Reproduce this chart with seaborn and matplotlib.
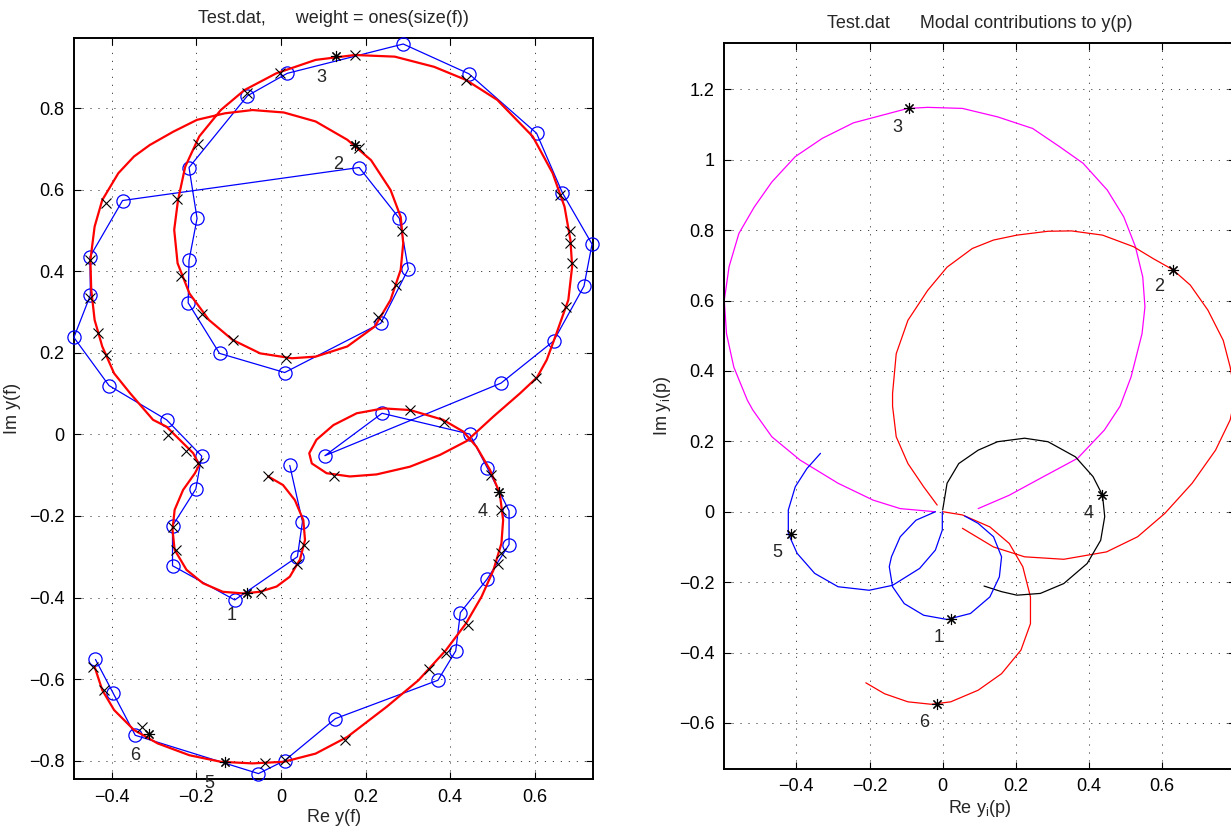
import matplotlib
matplotlib.use("Agg")
import matplotlib.pyplot as plt
import seaborn as sns
import numpy as np

sns.set_theme(style="ticks")
plt.rcParams["font.family"] = ["Liberation Sans", "DejaVu Sans"]
plt.rcParams["mathtext.fontset"] = "custom"
plt.rcParams["mathtext.rm"] = "Liberation Sans"
plt.rcParams["mathtext.it"] = "Liberation Sans:italic"

# ---------------- left panel data ----------------
fit_re = [-0.030, 0.005, 0.033, 0.053, 0.057, 0.045, 0.021, -0.010, -0.050, -0.089, -0.137, -0.184,
          -0.223, -0.251, -0.256, -0.251, -0.231, -0.203, -0.193, -0.207, -0.239, -0.270, -0.302,
          -0.356, -0.394, -0.422, -0.440, -0.448, -0.450, -0.440, -0.422, -0.384, -0.347, -0.310,
          -0.254, -0.198, -0.132, -0.067, 0.007, 0.082, 0.157, 0.213, 0.259, 0.283, 0.289, 0.283,
          0.259, 0.222, 0.157, 0.082, 0.026, -0.049, -0.114, -0.170, -0.216, -0.244, -0.252, -0.243,
          -0.226, -0.193, -0.142, -0.086, -0.011, 0.082, 0.175, 0.269, 0.362, 0.437, 0.511, 0.595,
          0.642, 0.670, 0.684, 0.688, 0.679, 0.651, 0.628, 0.605, 0.565, 0.502, 0.439, 0.376, 0.305,
          0.226, 0.163, 0.108, 0.073, 0.067, 0.084, 0.124, 0.179, 0.242, 0.305, 0.383, 0.431, 0.462,
          0.494, 0.517, 0.525, 0.521, 0.502, 0.474, 0.437, 0.390, 0.325, 0.250, 0.157, 0.082, 0.007,
          -0.067, -0.142, -0.216, -0.291, -0.347, -0.394, -0.422, -0.440]
fit_im = [-0.103, -0.124, -0.161, -0.210, -0.259, -0.307, -0.349, -0.373, -0.386, -0.390, -0.386, -0.365,
          -0.332, -0.283, -0.234, -0.185, -0.136, -0.095, -0.075, -0.046, -0.013, 0.019, 0.036,
          0.101, 0.150, 0.216, 0.281, 0.355, 0.428, 0.510, 0.575, 0.641, 0.682, 0.710,
          0.743, 0.772, 0.788, 0.796, 0.790, 0.768, 0.723, 0.673, 0.600, 0.534, 0.469, 0.404,
          0.330, 0.265, 0.216, 0.191, 0.187, 0.199, 0.232, 0.281, 0.346, 0.420, 0.502, 0.575,
          0.657, 0.731, 0.796, 0.845, 0.886, 0.919, 0.931, 0.927, 0.902, 0.870, 0.821, 0.731,
          0.641, 0.559, 0.477, 0.412, 0.330, 0.248, 0.183, 0.140, 0.101, 0.044, -0.016, -0.050, -0.079,
          -0.098, -0.103, -0.095, -0.071, -0.046, -0.013, 0.023, 0.052, 0.064, 0.060, 0.036, 0.007, -0.030,
          -0.087, -0.144, -0.210, -0.267, -0.333, -0.398, -0.464, -0.529, -0.603, -0.668, -0.742, -0.783, -0.803,
          -0.807, -0.803, -0.787, -0.758, -0.725, -0.676, -0.627, -0.570]

meas_re = [0.021, 0.051, 0.039, -0.109, -0.256, -0.256, -0.201, -0.187, -0.270, -0.406, -0.489, -0.450,
           -0.451, -0.374, 0.185, 0.280, 0.301, 0.236, 0.009, -0.145, -0.219, -0.217, -0.198, -0.217,
           -0.079, 0.015, 0.289, 0.444, 0.604, 0.665, 0.735, 0.716, 0.644, 0.520, 0.104, 0.239, 0.446,
           0.488, 0.539, 0.539, 0.487, 0.424, 0.413, 0.371, 0.129, 0.009, -0.053, -0.344, -0.396, -0.438]
meas_im = [-0.076, -0.214, -0.300, -0.406, -0.322, -0.224, -0.134, -0.053, 0.036, 0.120, 0.238, 0.342,
           0.436, 0.574, 0.655, 0.530, 0.406, 0.273, 0.152, 0.199, 0.323, 0.427, 0.530, 0.655,
           0.831, 0.886, 0.958, 0.885, 0.739, 0.593, 0.467, 0.364, 0.229, 0.126, -0.052, 0.052, 0.001,
           -0.083, -0.187, -0.270, -0.355, -0.437, -0.531, -0.603, -0.697, -0.800, -0.832, -0.738, -0.635, -0.552]

fitpt_re = [-0.030, 0.054, 0.037, -0.048, -0.256, -0.247, -0.195, -0.223, -0.267, -0.412, -0.431, -0.450,
            -0.450, -0.412, -0.246, -0.196, -0.081, -0.002, 0.174, 0.437, 0.185, 0.287, 0.273, 0.229,
            0.012, -0.112, -0.187, -0.235, 0.660, 0.682, 0.684, 0.688, 0.674, 0.602, 0.305, 0.385,
            0.126, 0.496, 0.521, 0.521, 0.513, 0.441, 0.390, 0.351, 0.152, 0.009, -0.037, -0.328,
            -0.417, -0.443]
fitpt_im = [-0.103, -0.271, -0.318, -0.386, -0.227, -0.283, -0.071, -0.040, -0.001, 0.195, 0.248, 0.334,
            0.428, 0.567, 0.577, 0.713, 0.837, 0.888, 0.932, 0.870, 0.704, 0.500, 0.367, 0.288,
            0.187, 0.232, 0.296, 0.389, 0.588, 0.498, 0.471, 0.420, 0.312, 0.138, 0.060, 0.031,
            -0.102, -0.099, -0.186, -0.292, -0.318, -0.468, -0.535, -0.576, -0.750, -0.799, -0.805, -0.717,
            -0.627, -0.570]

peak_re = [-0.080, 0.175, 0.131, 0.515, -0.132, -0.312]
peak_im = [-0.390, 0.710, 0.928, -0.140, -0.803, -0.735]
mode_labels = ["1", "2", "3", "4", "5", "6"]
lab_re = [-0.116, 0.136, 0.096, 0.476, -0.168, -0.345]
lab_im = [-0.443, 0.663, 0.876, -0.190, -0.856, -0.788]

# ---------------- right panel data ----------------
m1_re = [-0.020, -0.073, -0.116, -0.140, -0.146, -0.137, -0.105, -0.052, 0.012, 0.076, 0.129, 0.155,
         0.161, 0.139, 0.097, 0.060]
m1_im = [0.000, -0.024, -0.071, -0.128, -0.156, -0.213, -0.261, -0.294, -0.306, -0.289, -0.242, -0.185,
         -0.128, -0.071, -0.033, -0.012]
m2_re = [-0.015, -0.052, -0.095, -0.127, -0.137, -0.137, -0.127, -0.095, -0.041, 0.012, 0.081, 0.139,
         0.203, 0.288, 0.352, 0.437, 0.522, 0.576, 0.629, 0.677, 0.725, 0.767, 0.786, 0.800, 0.786,
         0.746, 0.682, 0.607, 0.533, 0.448, 0.331, 0.224, 0.139, 0.054]
m2_im = [0.019, 0.071, 0.137, 0.213, 0.300, 0.336, 0.449, 0.544, 0.629, 0.695, 0.748, 0.772,
         0.786, 0.797, 0.798, 0.786, 0.753, 0.719, 0.688, 0.644, 0.573, 0.487, 0.411, 0.330, 0.261,
         0.175, 0.081, -0.005, -0.071, -0.114, -0.135, -0.128, -0.100, -0.047]
m3_re = [0.097, 0.182, 0.267, 0.369, 0.442, 0.485, 0.515, 0.545, 0.553, 0.547, 0.527, 0.495, 0.450,
         0.384, 0.320, 0.246, 0.150, 0.054, -0.041, -0.095, -0.244, -0.329, -0.403, -0.467, -0.515,
         -0.557, -0.584, -0.597, -0.591, -0.571, -0.534, -0.519, -0.467, -0.390, -0.286, -0.190,
         -0.116, -0.020]
m3_im = [0.009, 0.047, 0.095, 0.152, 0.232, 0.300, 0.383, 0.506, 0.582, 0.667, 0.753, 0.838, 0.914,
         0.990, 1.037, 1.089, 1.122, 1.146, 1.149, 1.146, 1.105, 1.061, 1.009, 0.937, 0.866,
         0.791, 0.696, 0.601, 0.506, 0.411, 0.317, 0.289, 0.213, 0.147, 0.081, 0.033,
         0.009, 0.000]
m4_re = [0.000, 0.012, 0.044, 0.097, 0.150, 0.224, 0.288, 0.363, 0.411, 0.437, 0.443, 0.432, 0.395,
         0.331, 0.267, 0.203, 0.161, 0.113]
m4_im = [0.005, 0.081, 0.137, 0.175, 0.199, 0.209, 0.199, 0.156, 0.100, 0.047, -0.014, -0.081, -0.147,
         -0.204, -0.232, -0.237, -0.227, -0.211]
m5_re = [-0.001, -0.001, -0.020, -0.063, -0.137, -0.201, -0.286, -0.350, -0.398, -0.422, -0.422,
         -0.403, -0.371, -0.334]
m5_im = [0.000, -0.052, -0.109, -0.161, -0.209, -0.223, -0.213, -0.175, -0.118, -0.062, 0.005,
         0.071, 0.123, 0.166]
m6_re = [0.001, 0.054, 0.129, 0.182, 0.219, 0.240, 0.240, 0.214, 0.161, 0.097, 0.022, -0.031,
         -0.095, -0.159, -0.210]
m6_im = [0.000, -0.009, -0.043, -0.090, -0.156, -0.242, -0.318, -0.393, -0.460, -0.507, -0.540, -0.547,
         -0.540, -0.517, -0.486]

rpeak_re = [0.024, 0.629, -0.093, 0.435, -0.416, -0.015]
rpeak_im = [-0.306, 0.688, 1.146, 0.047, -0.064, -0.547]
rlab_re = [-0.010, 0.591, -0.124, 0.400, -0.451, -0.050]
rlab_im = [-0.358, 0.639, 1.092, -0.005, -0.117, -0.599]

# ---------------- figure ----------------
W, H = 1231, 830
fig = plt.figure(figsize=(W / 100, H / 100), dpi=100)
fig.patch.set_facecolor("white")

def px_axes(l, r, t, b):
    return fig.add_axes([l / W, (H - b) / H, (r - l) / W, (b - t) / H])

axL = px_axes(74.3, 593.3, 38.3, 779.3)
axR = px_axes(724.3, 1235.3, 43.3, 768.7)

FS = 13
STAR = (8, 2, 0)

def style(ax):
    ax.set_facecolor("white")
    ax.grid(True, color="0.25", linestyle=(0, (1.2, 7)), linewidth=0.7)
    ax.tick_params(direction="in", top=True, right=True, length=5, width=0.8,
                   labelsize=FS, pad=7, colors="black")
    for s in ax.spines.values():
        s.set_visible(True)
        s.set_linewidth(1.4)
        s.set_color("black")

# left panel
sns.lineplot(x=meas_re, y=meas_im, sort=False, estimator=None, ax=axL, color="#0000ff",
             linewidth=0.9, marker="o", markersize=9.5, markerfacecolor="none",
             markeredgecolor="#0000ff", markeredgewidth=0.9, clip_on=False, zorder=3)
sns.lineplot(x=fit_re, y=fit_im, sort=False, estimator=None, ax=axL, color="#ff0000",
             linewidth=1.6, zorder=4)
sns.lineplot(x=fitpt_re, y=fitpt_im, sort=False, estimator=None, ax=axL, color="black",
             linestyle="", marker="x", markersize=7, markeredgecolor="black",
             markeredgewidth=0.8, zorder=5)
sns.lineplot(x=peak_re, y=peak_im, sort=False, estimator=None, ax=axL, color="black",
             linestyle="", marker=STAR, markersize=8, markeredgecolor="black",
             markeredgewidth=0.8, zorder=5)
for t, x, y in zip(mode_labels, lab_re, lab_im):
    axL.text(x, y, t, fontsize=FS, ha="center", va="center", clip_on=False, zorder=6)

axL.set_xlim(-0.488, 0.738)
axL.set_ylim(-0.846, 0.972)
axL.set_xticks(np.round(np.arange(-0.4, 0.61, 0.2), 1))
axL.set_yticks(np.round(np.arange(-0.8, 0.81, 0.2), 1))
axL.set_xticklabels(["\u22120.4", "\u22120.2", "0", "0.2", "0.4", "0.6"])
axL.set_yticklabels(["\u22120.8", "\u22120.6", "\u22120.4", "\u22120.2", "0", "0.2", "0.4", "0.6", "0.8"])
style(axL)
axL.set_xlabel("Re y(f)", fontsize=FS, labelpad=2)
axL.set_ylabel("Im y(f)", fontsize=FS, labelpad=6)
axL.set_title("Test.dat,      weight = ones(size(f))", fontsize=FS, pad=11)

# right panel
for xs, ys, c in [(m3_re, m3_im, "#ff00ff"), (m2_re, m2_im, "#ff0000"), (m6_re, m6_im, "#ff0000"),
                  (m4_re, m4_im, "black"), (m1_re, m1_im, "#0000ff"), (m5_re, m5_im, "#0000ff")]:
    sns.lineplot(x=xs, y=ys, sort=False, estimator=None, ax=axR, color=c, linewidth=0.9)
sns.lineplot(x=rpeak_re, y=rpeak_im, sort=False, estimator=None, ax=axR, color="black",
             linestyle="", marker=STAR, markersize=8, markeredgecolor="black",
             markeredgewidth=0.8, zorder=5)
for t, x, y in zip(mode_labels, rlab_re, rlab_im):
    axR.text(x, y, t, fontsize=FS, ha="center", va="center", zorder=6)

axR.set_xlim(-0.597, 0.8)
axR.set_ylim(-0.730, 1.331)
axR.set_xticks(np.round(np.arange(-0.4, 0.61, 0.2), 1))
axR.set_xticklabels(["\u22120.4", "\u22120.2", "0", "0.2", "0.4", "0.6"])
axR.set_yticks(np.round(np.arange(-0.6, 1.21, 0.2), 1))
axR.set_yticklabels(["\u22120.6", "\u22120.4", "\u22120.2", "0", "0.2", "0.4", "0.6", "0.8", "1", "1.2"])
style(axR)
axR.set_xlabel(r"Re y$_{\mathrm{i}}$(p)", fontsize=FS, labelpad=2)
axR.set_ylabel(r"Im y$_{\mathrm{i}}$(p)", fontsize=FS, labelpad=4)
axR.set_title("Test.dat      Modal contributions to y(p)", fontsize=FS, pad=11)

fig.savefig("out.png", dpi=100, facecolor="white")
